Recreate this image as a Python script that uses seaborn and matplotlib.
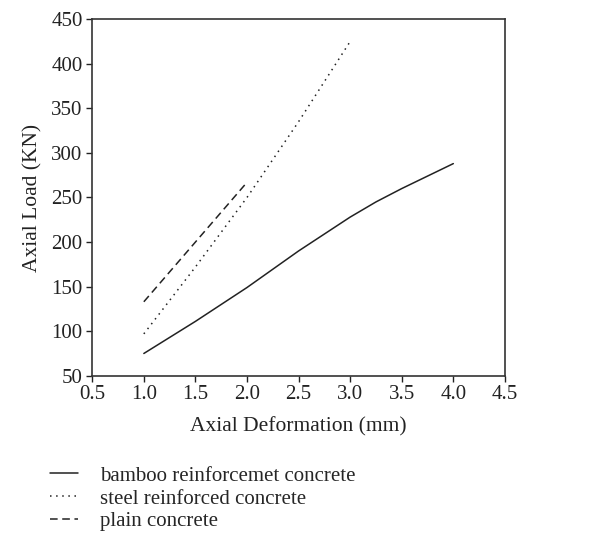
import matplotlib
matplotlib.use("Agg")
import matplotlib.pyplot as plt
import seaborn as sns
import pandas as pd

# dati
bamboo_x = [1.0, 1.5, 2.0, 2.5, 3.0, 3.25, 3.5, 4.0]
bamboo_y = [75, 111, 149, 190, 228, 245, 260, 288]

steel_x = [1.0, 1.5, 2.0, 2.5, 3.0]
steel_y = [97, 172, 250, 335, 425]

plain_x = [1.0, 1.5, 2.0]
plain_y = [133, 200, 267]

labels = ["bamboo reinforcemet concrete", "steel reinforced concrete", "plain concrete"]

sns.set_style("white")
plt.rcParams['font.family'] = ['Liberation Serif', 'DejaVu Serif']

fig = plt.figure(figsize=(6.15, 5.33), dpi=100)
ax = fig.add_axes([0.15, 0.295, 0.671, 0.669])

sns.lineplot(x=bamboo_x, y=bamboo_y, ax=ax, color='#222222', linewidth=1.1,
             linestyle='-', label=labels[0])
sns.lineplot(x=steel_x, y=steel_y, ax=ax, color='#222222', linewidth=1.1,
             linestyle=(0, (1, 3)), label=labels[1])
sns.lineplot(x=plain_x, y=plain_y, ax=ax, color='#222222', linewidth=1.1,
             linestyle=(0, (5, 3)), label=labels[2])

ax.set_xlim(0.5, 4.5)
ax.set_ylim(50, 450)
ax.set_xticks([0.5, 1.0, 1.5, 2.0, 2.5, 3.0, 3.5, 4.0, 4.5])
ax.set_xticklabels([f"{v:.1f}" for v in ax.get_xticks()])
ax.set_yticks(range(50, 451, 50))
ax.tick_params(axis='both', direction='out', length=4, width=1, labelsize=15,
               bottom=True, left=True, colors='#222222', pad=3)
ax.set_xlabel("Axial Deformation (mm)", fontsize=15.5, labelpad=9, color='#222222')
ax.set_ylabel("Axial Load (KN)", fontsize=15.5, labelpad=6, color='#222222')
for s in ax.spines.values():
    s.set_color('#333333')
    s.set_linewidth(1.2)

ax.legend(loc='upper left', bbox_to_anchor=(0.058, 0.153), bbox_transform=fig.transFigure,
          frameon=False, fontsize=15, handlelength=1.35, labelspacing=0.16, handletextpad=1.05,
          borderpad=0.2)

fig.savefig("out.png", dpi=100)
